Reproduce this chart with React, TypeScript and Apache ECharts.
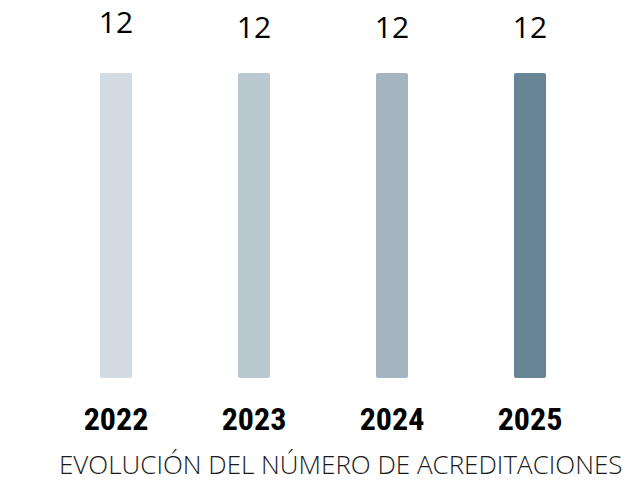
import React, { useEffect, useRef } from "react";
import * as echarts from "echarts";

const categories = ["2022", "2023", "2024", "2025"];
const values = [12, 12, 12, 12];
const barColors = ["#D1DBE1", "#BAC8D0", "#A4B5BF", "#688596"];
const labelDistances = [37, 32, 32, 32];
const titleText = "EVOLUCIÓN DEL NÚMERO DE ACREDITACIONES";

export default function App() {
  const ref = useRef<HTMLDivElement>(null);
  useEffect(() => {
    if (!ref.current) return;
    const chart = echarts.init(ref.current, null, { renderer: "svg" });
    chart.setOption({
      animation: false,
      backgroundColor: "#ffffff",
      title: {
        text: titleText,
        left: 59,
        top: 449,
        padding: 0,
        textStyle: {
          fontFamily: "Open Sans",
          fontWeight: 300,
          fontSize: 26,
          lineHeight: 30,
          color: "#1a1a1a",
        },
      },
      grid: { left: 47, right: 31, top: 73, bottom: 103, containLabel: false },
      xAxis: {
        type: "category",
        data: categories,
        axisLine: { show: false },
        axisTick: { show: false },
        axisLabel: {
          margin: 25,
          fontFamily: "'Noto Sans Condensed', 'Roboto Condensed', 'DejaVu Sans Condensed', sans-serif",
          fontWeight: "bold",
          fontSize: 32,
          color: "#000000",
        },
      },
      yAxis: {
        type: "value",
        min: 0,
        max: 12,
        show: false,
        splitLine: { show: false },
      },
      series: [
        {
          type: "bar",
          barWidth: 32,
          data: values.map((v, i) => ({
            value: v,
            itemStyle: { color: barColors[i] },
            label: { distance: labelDistances[i] },
          })),
          itemStyle: { borderRadius: 2 },
          label: {
            show: true,
            position: "top",
            fontFamily: "Open Sans",
            fontWeight: 400,
            fontSize: 30,
            color: "#000000",
          },
        },
      ],
    });
    return () => chart.dispose();
  }, []);
  return (
    <div
      ref={ref}
      style={{ position: "absolute", left: 0, top: 0, width: 630, height: 481 }}
    />
  );
}
